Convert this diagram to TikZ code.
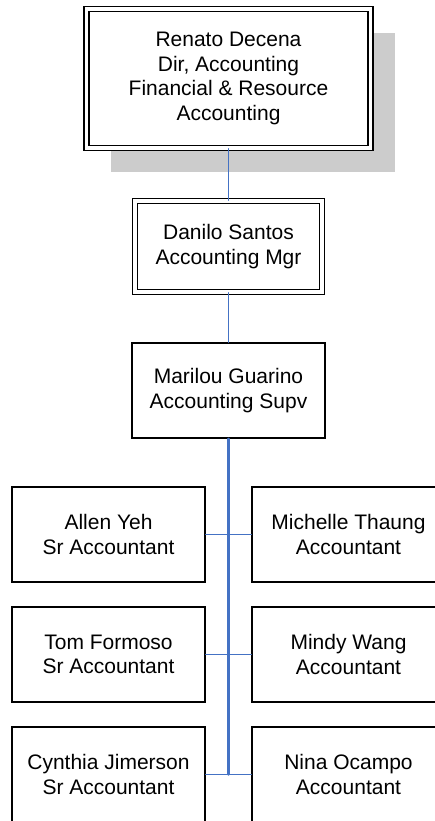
\documentclass[tikz,border=0pt]{standalone}
\usepackage{fontspec}
\setmainfont{Liberation Sans}
\usetikzlibrary{shadows}

\definecolor{linkblue}{RGB}{68,114,196}
\definecolor{shadowgray}{RGB}{204,204,204}

\tikzset{
    orgbox/.style={draw,line width=1.5pt,fill=white,align=center,inner sep=0pt,
        minimum width=193pt,minimum height=95pt,
        font=\fontsize{21}{24.5}\selectfont},
    dblbox/.style={orgbox,double,double distance=3.4pt,line width=1.5pt},
    link/.style={linkblue,line width=1.2pt}
}

\begin{document}
\begin{tikzpicture}[x=1pt,y=-1pt,line cap=round]
        \useasboundingbox (0,0) rectangle (434,821);

        % Director con sombra
        \node[dblbox,minimum width=284pt,minimum height=139pt,
            drop shadow={shadow xshift=24pt,shadow yshift=-24pt,
                fill=shadowgray,opacity=1}]
            (director) at (228.5,78.5)
            {Renato Decena\\Dir, Accounting\\Financial \& Resource\\Accounting};

        % Gerente y supervisora
        \node[dblbox,minimum width=187pt,minimum height=91pt]
            (manager) at (228.5,246.5) {Danilo Santos\\Accounting Mgr};
        \node[orgbox] (supervisor) at (228.5,390.5)
            {Marilou Guarino\\Accounting Supv};

        % Contadores, columna izquierda
        \node[orgbox] (allen) at (108.5,534.5) {Allen Yeh\\Sr Accountant};
        \node[orgbox] (tom) at (108.5,654.5) {Tom Formoso\\Sr Accountant};
        \node[orgbox] (cynthia) at (108.5,774.5) {Cynthia Jimerson\\Sr Accountant};

        % Contadores, columna derecha
        \node[orgbox] (michelle) at (348.5,534.5) {Michelle Thaung\\Accountant};
        \node[orgbox] (mindy) at (348.5,654.5) {Mindy Wang\\Accountant};
        \node[orgbox] (nina) at (348.5,774.5) {Nina Ocampo\\Accountant};

        % Conectores verticales
        \draw[link,line width=1.1pt] (director) -- (manager);
        \draw[link,line width=1.5pt] (manager) -- (supervisor);
        \coordinate (trunkend) at (supervisor.south |- cynthia.east);
        \draw[link,line width=2.4pt] (supervisor) -- (trunkend);

        % Conectores horizontales
        \draw[link] (allen) -- (michelle);
        \draw[link] (tom) -- (mindy);
        \draw[link] (cynthia) -- (nina);
    \end{tikzpicture}
\end{document}
